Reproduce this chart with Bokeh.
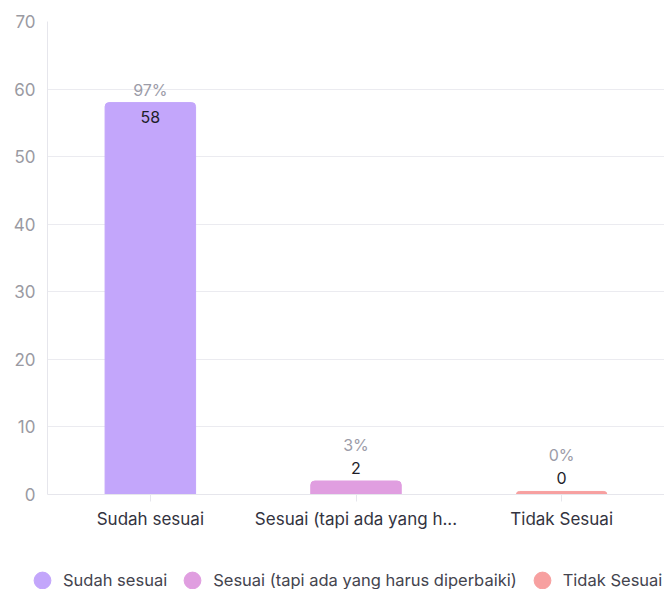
from bokeh.plotting import figure
from bokeh.layouts import column
from bokeh.models import ColumnDataSource, Legend, LegendItem, FixedTicker, Range1d
from bokeh.core.properties import value
from bokeh.embed import file_html
from bokeh.resources import INLINE

# Survey answers and counts
categories = ["Sudah sesuai", "Sesuai (tapi ada yang h...", "Tidak Sesuai"]
legend_labels = ["Sudah sesuai", "Sesuai (tapi ada yang harus diperbaiki)", "Tidak Sesuai"]
counts = [58, 2, 0]
percents = ["97%", "3%", "0%"]
colors = ["#C3A6FB", "#E09EE0", "#F7A0A0"]
y_ticks = [0, 10, 20, 30, 40, 50, 60, 70]

FONT = "Inter"
MIN_BAR = 0.45  # smallest drawn bar height so empty answers stay visible

tops = [max(c, MIN_BAR) for c in counts]
inside = [c >= 10 for c in counts]
pct_off = [-13 if ins else -36 for ins in inside]
val_off = [14 if ins else -13 for ins in inside]

src = ColumnDataSource(dict(
    cat=categories, top=tops, count=[str(c) for c in counts], pct=percents,
    color=colors, pct_off=pct_off, val_off=val_off,
))

p = figure(
    x_range=categories, y_range=Range1d(0, 70),
    width=664, height=560, frame_width=617, frame_height=473,
    output_backend="svg", toolbar_location=None,
    min_border_left=47, min_border_right=0, min_border_top=21, min_border_bottom=66,
)
p.frame_align = False
p.outline_line_color = None
p.background_fill_color = "white"

p.vbar(x="cat", top="top", width=0.44, color="color", source=src,
       border_radius=(4, 4, 0, 0))

p.text(x="cat", y="top", text="pct", source=src, y_offset="pct_off",
       text_align="center", text_baseline="middle", text_color="#9C9CA8",
       text_font=value(FONT), text_font_size="16px")
p.text(x="cat", y="top", text="count", source=src, y_offset="val_off",
       text_align="center", text_baseline="middle", text_color="#1E1E2A",
       text_font=value(FONT), text_font_size="16px")

# axes and grid
p.yaxis.ticker = FixedTicker(ticks=y_ticks)
p.yaxis.major_tick_line_color = None
p.yaxis.major_tick_out = 0
p.yaxis.major_tick_in = 0
p.yaxis.minor_tick_line_color = None
p.yaxis.axis_line_color = "#E6E6EC"
p.yaxis.major_label_text_color = "#9A9AA2"
p.yaxis.major_label_text_font = FONT
p.yaxis.major_label_text_font_size = "17px"
p.yaxis.major_label_standoff = 12

p.xaxis.axis_line_color = "#E6E6EC"
p.xaxis.major_tick_line_color = "#E6E6EC"
p.xaxis.major_tick_out = 7
p.xaxis.major_tick_in = 0
p.xaxis.major_label_standoff = 7
p.xaxis.major_label_text_color = "#333340"
p.xaxis.major_label_text_font = FONT
p.xaxis.major_label_text_font_size = "17px"

p.xgrid.grid_line_color = None
p.ygrid.grid_line_color = "#EBEBF0"
p.ygrid.ticker = FixedTicker(ticks=y_ticks)

# legend strip under the chart, with round swatches
lg = figure(
    width=664, height=29, x_range=Range1d(0, 1), y_range=Range1d(0, 1),
    x_axis_type=None, y_axis_type=None, output_backend="svg",
    toolbar_location=None, min_border=0,
    min_border_left=0, min_border_right=0, min_border_top=0, min_border_bottom=0,
)
lg.frame_align = False
lg.outline_line_color = None
lg.grid.visible = False
items = []
for lab, col in zip(legend_labels, colors):
    # swatch renderer; its single point sits outside the visible range
    r = lg.scatter(x=[-5], y=[-5], marker="circle", size=17, color=col)
    items.append(LegendItem(label=lab, renderers=[r]))
legend = Legend(items=items, orientation="horizontal", location=(21, -12),
                glyph_width=42, glyph_height=42, label_standoff=0, spacing=4,
                padding=0, margin=0, border_line_color=None,
                background_fill_alpha=0, label_text_font=FONT,
                label_text_font_size="16.5px", label_text_color="#44444E")
lg.add_layout(legend, "center")

layout = column(p, lg, spacing=0)
open("out.html", "w").write(file_html(layout, INLINE))
